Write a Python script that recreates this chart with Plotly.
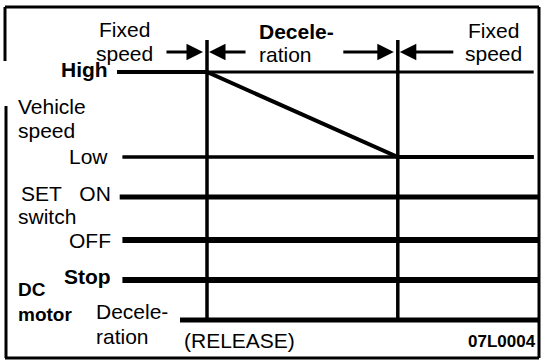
import plotly.graph_objects as go

W, H = 542, 360

# time axis in arbitrary units: 0 = left end of the traces, 1 = SET switch released
t_release = 1.0
t_low = 3.12        # vehicle reaches the low speed
t_end = 4.69

# vehicle speed profile (1 = High, 0 = Low)
speed_t = [0.0, t_release, t_low, 4.63]
speed_level = [1, 1, 0, 0]

# level lines of the chart
row_names = ["High", "Low", "SET ON", "OFF", "Stop", "Deceleration"]
row_level = [1, 0, 1, 0, 1, 0]
row_start = [0.0, 0.06, 0.03, 0.06, 0.06, 0.70]
row_end = [4.63, 4.63, t_end, t_end, t_end, t_end]
row_signal = ["speed", "speed", "switch", "switch", "motor", "motor"]

# styling / layout
axis_of = {"speed": "y", "switch": "y2", "motor": "y3"}
row_width = [3, 3.5, 5, 6, 6, 5]
FONT = "Liberation Sans, Arial, sans-serif"
FS = 21


def px(x):
    return x / W


def py(y):
    return 1 - y / H


fig = go.Figure()

for name, lvl, t0, t1, sig, w in zip(row_names, row_level, row_start, row_end, row_signal, row_width):
    fig.add_trace(go.Scatter(x=[t0, t1], y=[lvl, lvl], mode="lines", yaxis=axis_of[sig],
                             line=dict(color="black", width=w), name=name, hoverinfo="skip"))

fig.add_trace(go.Scatter(x=speed_t, y=speed_level, mode="lines", yaxis="y",
                         line=dict(color="black", width=4), name="Vehicle speed", hoverinfo="skip"))

# event lines (release / low speed reached)
fig.add_shape(type="line", xref="x", yref="paper", x0=t_release, x1=t_release,
              y0=py(322), y1=py(40), line=dict(color="black", width=3.5))
fig.add_shape(type="line", xref="x", yref="paper", x0=t_low, x1=t_low,
              y0=py(320), y1=py(40), line=dict(color="black", width=3.5))

# frame (left side has a gap)
for x0, y0, x1, y1 in [(5, 7, 539, 7), (539, 7, 539, 358), (5, 358, 539, 358),
                       (5, 7, 5, 61), (6, 106, 6, 358)]:
    fig.add_shape(type="line", xref="paper", yref="paper", x0=px(x0), y0=py(y0),
                  x1=px(x1), y1=py(y1), line=dict(color="black", width=3))

# arrows pointing at the event lines
for tx, ax, stand in [(t_release, -42, 4), (t_release, 40, 2), (t_low, -56, 4), (t_low, 57, 2)]:
    fig.add_annotation(x=tx, xref="x", y=py(52), yref="paper", text="", showarrow=True,
                       ax=ax, ay=0, arrowhead=2, arrowsize=1.1, arrowwidth=3,
                       arrowcolor="black", standoff=stand)


def label(text, x, y, anchor="left", size=FS, bold=False):
    if bold:
        text = "<b>" + text + "</b>"
    fig.add_annotation(x=px(x), y=py(y), xref="paper", yref="paper", text=text,
                       showarrow=False, xanchor=anchor, yanchor="middle", align=anchor,
                       font=dict(family=FONT, size=size, color="black"))


label("Fixed", 124, 29, "center")
label("speed", 124, 53, "center")
label("Decele-", 257, 31, "left", bold=True)
label("ration", 257, 54, "left")
label("Fixed", 493, 30, "center")
label("speed", 493, 53, "center")

label("High", 110, 70, "right", bold=True)
label("Vehicle", 16, 106)
label("speed", 16, 130)
label("Low", 110, 156, "right")

label("SET&nbsp;&nbsp;&nbsp;ON", 113, 193, "right")
label("switch", 16, 216)
label("OFF", 113, 240, "right")

label("Stop", 113, 276, "right", bold=True)
label("DC<br>motor", 16, 302, size=19, bold=True)
label("Decele-", 94, 311)
label("ration", 94, 336)
label("(RELEASE)", 182, 340)
label("07L0004", 538, 341, "right", size=17, bold=True)

fig.update_layout(
    width=W, height=H,
    margin=dict(l=0, r=0, t=0, b=0),
    paper_bgcolor="white", plot_bgcolor="white",
    showlegend=False,
    xaxis=dict(range=[-117 / 90, (W - 117) / 90], visible=False, fixedrange=True),
    yaxis=dict(domain=[0.50486, 0.85903], range=[-0.25, 1.25], visible=False),
    yaxis2=dict(domain=[0.30347, 0.48264], range=[-0.25, 1.25], visible=False),
    yaxis3=dict(domain=[0.08333, 0.25], range=[-0.25, 1.25], visible=False),
)

fig.write_html("out.html", config={"displayModeBar": False},
               post_script="document.body.style.margin='0';document.body.style.overflow='hidden';")
